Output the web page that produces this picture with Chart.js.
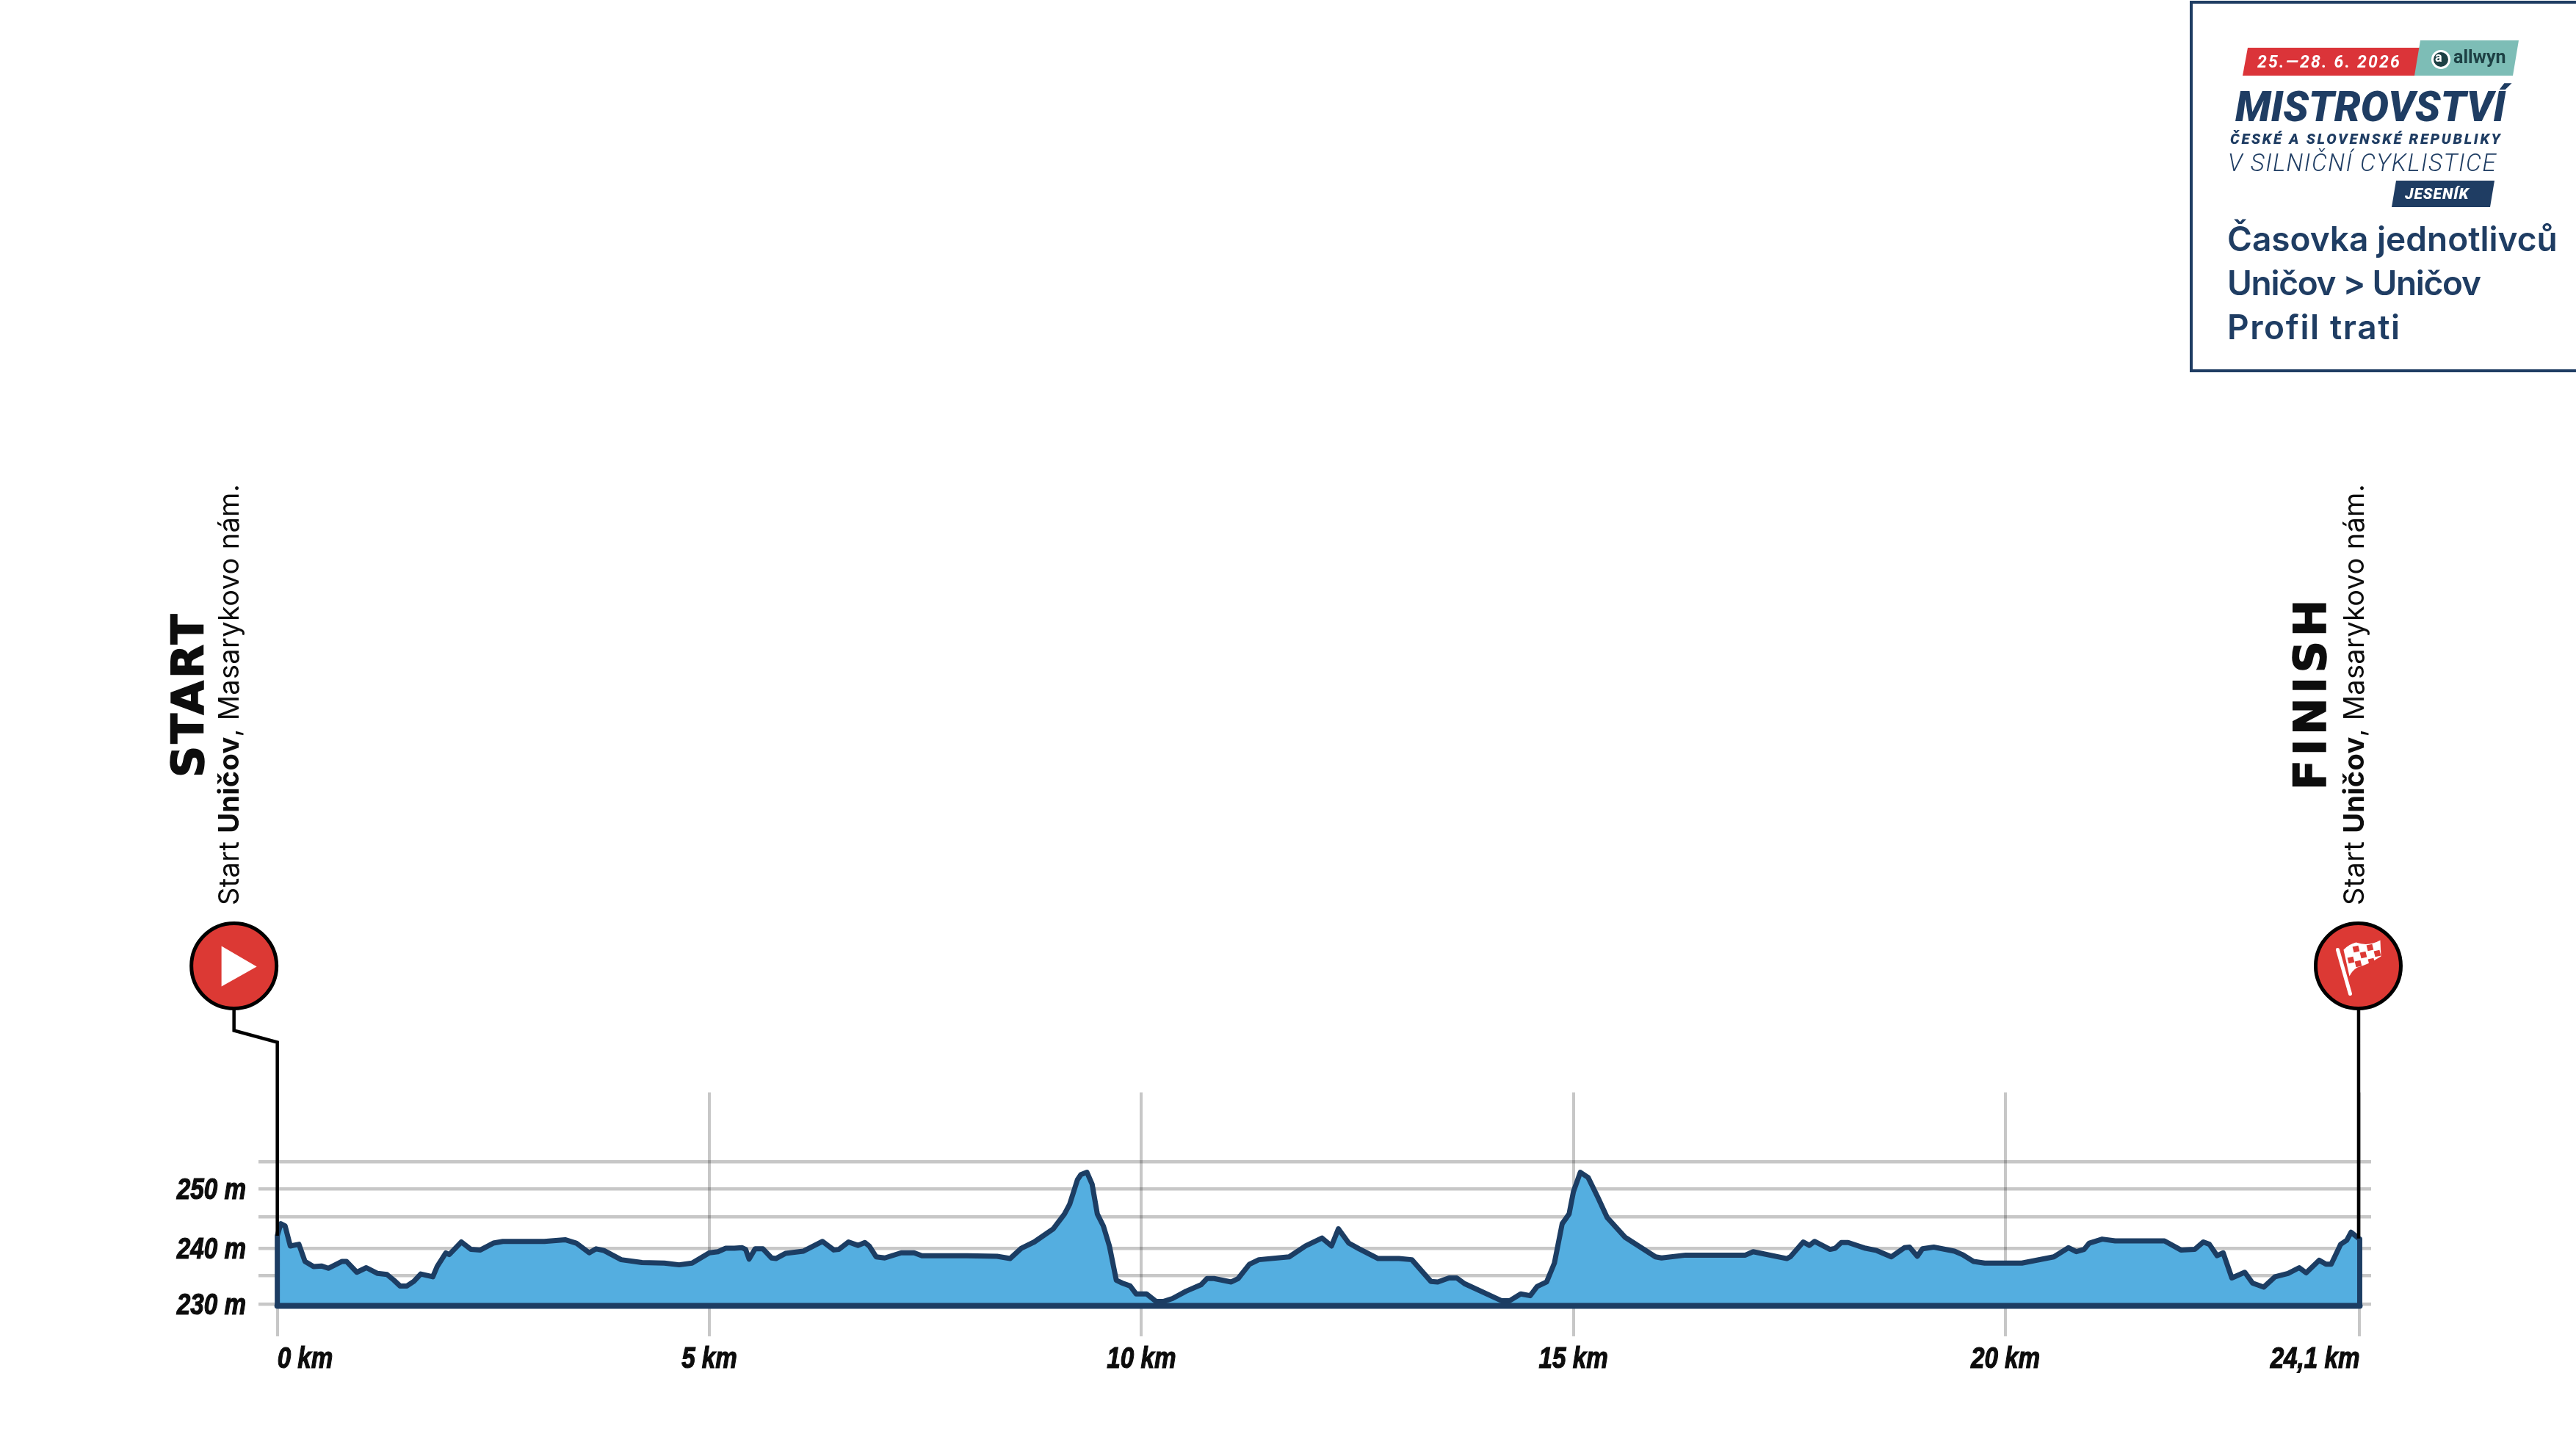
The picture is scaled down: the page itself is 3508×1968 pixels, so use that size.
<!DOCTYPE html>
<html>
<head>
<meta charset="utf-8">
<script src="https://cdn.jsdelivr.net/npm/chart.js@4"></script>
<style>
    html, body { margin: 0; padding: 0; background: #fff; }
    #page { position: relative; width: 3508px; height: 1968px; overflow: hidden; }
    #profile { position: absolute; left: 0; top: 0; }

    .t { position: absolute; white-space: nowrap; line-height: 1; color: #1f3d63; }
    .logo { font-family: Roboto, sans-serif; font-style: italic; }
    .shape { position: absolute; }
    .route { font-family: Inter, sans-serif; font-weight: 600; font-size: 46px; }

    .rot { position: absolute; white-space: nowrap; line-height: 1; color: #0d0d0d;
           transform: rotate(-90deg); transform-origin: left top; }
    .big { font-family: "DejaVu Sans", sans-serif; font-weight: 700; font-size: 60px; -webkit-text-stroke: 1.5px #0d0d0d; }
    .place { font-family: Inter, sans-serif; font-size: 38px; letter-spacing: 0.3px; }
    .place b { font-weight: 700; }
</style>
</head>
<body>
<div id="page">
    <canvas id="profile" width="3508" height="1968"></canvas>

    <div class="rot big" style="left:226px; top:1059px; letter-spacing:3px;">START</div>
    <div class="rot place" style="left:292px; top:1233px;">Start <b>Uničov</b>, Masarykovo nám.</div>
    <div class="rot big" style="left:3116px; top:1076px; letter-spacing:6px;">FINISH</div>
    <div class="rot place" style="left:3186px; top:1233px;">Start <b>Uničov</b>, Masarykovo nám.</div>

    <div class="shape" style="left:2982px; top:1px; width:530px; height:498px; border:4px solid #1f3d63;"></div>

    <div class="shape" style="left:3054px; top:65px; width:242px; height:38px; background:#db3439; clip-path:polygon(7px 0,100% 0,calc(100% - 7px) 100%,0 100%);"></div>
    <div class="shape" style="left:3288px; top:55px; width:142px; height:48px; background:#7dbdb6; clip-path:polygon(8px 0,100% 0,calc(100% - 8px) 100%,0 100%);"></div>
    <div class="t logo" style="left:3074px; top:73px; font-size:23px; font-weight:700; color:#fff; letter-spacing:2.2px;">25.—28. 6. 2026</div>
    <div class="shape" style="left:3311px; top:68px; width:20px; height:20px; border-radius:50%; background:#1d4044; border:3px solid #fff;"></div>
    <div class="t" style="left:3316px; top:69px; font-family:Roboto; font-weight:700; font-size:18px; color:#fff;">a</div>
    <div class="t" style="left:3341px; top:65px; font-family:Roboto; font-weight:700; font-size:25px; color:#1d4044;">allwyn</div>

    <div class="t logo" style="left:3044px; top:117px; font-size:57px; font-weight:900; letter-spacing:0;">MISTROVSTVÍ</div>
    <div class="t logo" style="left:3037px; top:179px; font-size:20px; font-weight:900; letter-spacing:2.7px;">ČESKÉ A SLOVENSKÉ REPUBLIKY</div>
    <div class="t logo" style="left:3034px; top:205px; font-size:33px; font-weight:300; letter-spacing:1.5px;">V SILNIČNÍ CYKLISTICE</div>
    <div class="shape" style="left:3257px; top:246px; width:140px; height:36px; background:#1f3d63; clip-path:polygon(6px 0,100% 0,calc(100% - 6px) 100%,0 100%);"></div>
    <div class="t logo" style="left:3275px; top:254px; font-size:21px; font-weight:900; color:#fff; letter-spacing:1px;">JESENÍK</div>

    <div class="t route" style="left:3033px; top:302px;">Časovka jednotlivců</div>
    <div class="t route" style="left:3033px; top:362px; letter-spacing:-1.3px;">Uničov &gt; Uničov</div>
    <div class="t route" style="left:3033px; top:422px; letter-spacing:1.6px;">Profil trati</div>
</div>

<script>
// km / metres
const kmValues = [
    0, 0, 0.04, 0.09, 0.15, 0.25, 0.32, 0.42, 0.51, 0.59, 0.75, 0.80, 0.92, 1.03, 1.16, 1.27, 1.35, 1.42, 1.50, 1.58,
    1.66, 1.80, 1.85, 1.95, 1.99, 2.13, 2.24, 2.35, 2.50, 2.61, 2.87, 3.09, 3.33, 3.46, 3.61, 3.69, 3.78, 3.98, 4.22, 4.48,
    4.65, 4.80, 5.00, 5.10, 5.19, 5.29, 5.38, 5.42, 5.46, 5.53, 5.62, 5.72, 5.77, 5.88, 6.09, 6.31, 6.44, 6.50, 6.61, 6.72,
    6.80, 6.85, 6.93, 7.03, 7.22, 7.37, 7.46, 7.81, 7.98, 8.33, 8.48, 8.61, 8.76, 8.98, 9.11, 9.17, 9.26, 9.30, 9.37, 9.43,
    9.49, 9.56, 9.63, 9.71, 9.78, 9.87, 9.94, 10.06, 10.17, 10.26, 10.36, 10.52, 10.69, 10.76, 10.84, 11.04, 11.12, 11.25, 11.36, 11.71,
    11.90, 12.09, 12.20, 12.28, 12.40, 12.52, 12.74, 12.98, 13.13, 13.35, 13.43, 13.56, 13.65, 13.74, 14.17, 14.26, 14.39, 14.50, 14.58, 14.69,
    14.78, 14.87, 14.95, 15.00, 15.08, 15.17, 15.28, 15.39, 15.60, 15.95, 16.02, 16.30, 16.99, 17.08, 17.47, 17.51, 17.66, 17.73, 17.79, 17.97,
    18.03, 18.10, 18.18, 18.38, 18.51, 18.68, 18.83, 18.89, 18.98, 19.04, 19.17, 19.41, 19.50, 19.63, 19.76, 20.19, 20.56, 20.73, 20.82, 20.91,
    20.97, 21.12, 21.27, 21.84, 22.03, 22.19, 22.29, 22.36, 22.45, 22.52, 22.62, 22.77, 22.86, 22.99, 23.12, 23.27, 23.40, 23.48, 23.63, 23.71,
    23.77, 23.88, 23.95, 24.00, 24.09, 24.10, 24.10
];
const elevationValues = [
    229.7, 242.0, 244.1, 243.7, 240.2, 240.5, 237.5, 236.6, 236.7, 236.3, 237.5, 237.5, 235.6, 236.4, 235.4, 235.2, 234.2, 233.2, 233.2, 234.0,
    235.3, 234.8, 236.6, 239.0, 238.7, 240.9, 239.6, 239.5, 240.7, 241.0, 241.0, 241.0, 241.3, 240.7, 239.0, 239.7, 239.4, 237.8, 237.3, 237.2,
    236.9, 237.2, 239.0, 239.2, 239.8, 239.8, 239.9, 239.6, 237.9, 239.7, 239.7, 238.1, 238.0, 238.9, 239.3, 241.0, 239.5, 239.6, 240.9, 240.3,
    240.8, 240.2, 238.3, 238.1, 239.0, 239.0, 238.5, 238.5, 238.5, 238.4, 238.0, 239.8, 240.9, 243.2, 245.8, 247.5, 251.8, 252.7, 253.1, 251.0,
    245.8, 243.7, 240.2, 234.2, 233.7, 233.2, 231.8, 231.8, 230.5, 230.5, 231.0, 232.3, 233.4, 234.5, 234.5, 233.9, 234.5, 237.0, 237.8, 238.3,
    240.2, 241.6, 240.2, 243.2, 240.7, 239.7, 238.0, 238.0, 237.8, 234.0, 233.9, 234.6, 234.6, 233.6, 230.6, 230.6, 231.8, 231.5, 233.1, 233.9,
    237.2, 244.1, 245.8, 249.7, 253.1, 252.2, 248.8, 245.2, 241.7, 238.3, 238.1, 238.6, 238.6, 239.2, 238.0, 238.3, 240.9, 240.3, 241.0, 239.6,
    239.8, 240.8, 240.8, 239.8, 239.4, 238.3, 239.9, 240.0, 238.4, 239.7, 240.0, 239.3, 238.7, 237.5, 237.2, 237.2, 238.3, 239.9, 239.2, 239.6,
    240.7, 241.4, 241.1, 241.1, 239.5, 239.6, 240.9, 240.5, 238.5, 239.0, 234.6, 235.6, 233.7, 233.0, 234.8, 235.4, 236.4, 235.5, 237.7, 237.0,
    237.0, 240.5, 241.2, 242.6, 241.5, 241.4, 229.7
];
const baseKm = [0, 24.1];
const baseElevation = [229.7, 229.7];

const xTickValues = [0, 5, 10, 15, 20, 24.1];
const xTickLabels = ["0 km", "5 km", "10 km", "15 km", "20 km", "24,1 km"];
// the grid in the picture is not quite even
const yTickValues = [230, 235.01, 239.77, 245.24, 250.18, 255];
const yTickLabels = ["230 m", "", "240 m", "", "250 m", ""];

const navy = "#1c3d63";
const red = "#dc3934";
const gridColor = "rgba(0,0,0,0.22)";
const labelColor = "#0d0d0d";

function squeezedLabel(ctx, text, x, y, align) {
    // no condensed face is installed, so squeeze the bold italic by hand
    ctx.save();
    ctx.translate(x, y);
    ctx.scale(0.83, 1);
    ctx.font = 'italic bold 40px "Liberation Sans", sans-serif';
    ctx.textAlign = align;
    ctx.textBaseline = "alphabetic";
    ctx.fillStyle = labelColor;
    ctx.strokeStyle = labelColor;
    ctx.lineWidth = 1.2;
    ctx.fillText(text, 0, 0);
    ctx.strokeText(text, 0, 0);
    ctx.restore();
}

const axisLabels = {
    id: "axisLabels",
    afterDraw(chart) {
        const ctx = chart.ctx;
        const xs = chart.scales.x;
        const ys = chart.scales.y;
        xTickValues.forEach((v, i) => {
            // first label starts on its tick, last one ends on it
            const align = i === 0 ? "left" : i === xTickValues.length - 1 ? "right" : "center";
            squeezedLabel(ctx, xTickLabels[i], xs.getPixelForValue(v), xs.top + 43, align);
        });
        yTickValues.forEach((v, i) => {
            if (yTickLabels[i]) squeezedLabel(ctx, yTickLabels[i], ys.right - 17, ys.getPixelForValue(v) + 13.5, "right");
        });
    }
};

function marker(ctx, x, y) {
    ctx.beginPath();
    ctx.arc(x, y, 58, 0, Math.PI * 2);
    ctx.fillStyle = red;
    ctx.fill();
    ctx.lineWidth = 5;
    ctx.strokeStyle = "#000";
    ctx.stroke();
}

// start and finish signs hang off the ends of the x scale
const signs = {
    id: "signs",
    afterDatasetsDraw(chart) {
        const ctx = chart.ctx;
        const xs = chart.scales.x;
        const ys = chart.scales.y;
        const sx = xs.getPixelForValue(0);
        const fx = xs.getPixelForValue(24.1);
        const mx = fx - 2;
        const cy = 1315.5;

        ctx.save();
        ctx.strokeStyle = "#000";
        ctx.lineWidth = 4.5;
        ctx.beginPath();
        ctx.moveTo(sx - 59, cy + 58);
        ctx.lineTo(sx - 59, cy + 88);
        ctx.lineTo(sx, cy + 104);
        ctx.lineTo(sx, ys.getPixelForValue(elevationValues[1]));
        ctx.moveTo(fx - 1.5, cy + 58);
        ctx.lineTo(fx - 1.5, ys.getPixelForValue(241.5));
        ctx.stroke();

        marker(ctx, sx - 59, cy);
        ctx.fillStyle = "#fff";
        ctx.beginPath();
        ctx.moveTo(sx - 76, cy - 27);
        ctx.lineTo(sx - 28, cy + 1);
        ctx.lineTo(sx - 76, cy + 28);
        ctx.closePath();
        ctx.fill();

        marker(ctx, mx, cy);
        ctx.strokeStyle = "#fff";
        ctx.lineWidth = 5;
        ctx.lineCap = "round";
        ctx.beginPath();
        ctx.moveTo(mx - 28, cy - 22);
        ctx.lineTo(mx - 11, cy + 38);
        ctx.stroke();
        ctx.fillStyle = "#fff";
        ctx.beginPath();
        ctx.moveTo(mx - 20, cy - 22);
        ctx.quadraticCurveTo(mx - 12, cy - 30, mx - 3, cy - 32);
        ctx.quadraticCurveTo(mx + 14, cy - 26, mx + 30, cy - 35);
        ctx.lineTo(mx + 31, cy - 13);
        ctx.quadraticCurveTo(mx + 14, cy - 2, mx - 1, cy + 2);
        ctx.quadraticCurveTo(mx - 8, cy + 6, mx - 12, cy + 14);
        ctx.closePath();
        ctx.fill();
        // checks on the flag
        ctx.fillStyle = red;
        [[-3, -23], [16, -25], [7, -15], [26, -17], [-10, -8], [18, -6], [0, -3]].forEach(c => {
            ctx.save();
            ctx.translate(mx + c[0], cy + c[1]);
            ctx.rotate(-0.25);
            ctx.fillRect(-4, -4, 8, 8);
            ctx.restore();
        });
        ctx.restore();
    }
};

new Chart(document.getElementById("profile"), {
    type: "line",
    data: {
        datasets: [
            {
                data: baseKm.map((k, i) => ({ x: k, y: baseElevation[i] })),
                borderColor: navy,
                borderWidth: 8,
                borderCapStyle: "round",
                pointRadius: 0,
                fill: false,
                order: 1
            },
            {
                data: kmValues.map((k, i) => ({ x: k, y: elevationValues[i] })),
                borderColor: navy,
                borderWidth: 7,
                borderJoinStyle: "round",
                backgroundColor: "#54aee0",
                pointRadius: 0,
                tension: 0,
                fill: { value: 229.7 },
                order: 2
            }
        ]
    },
    options: {
        responsive: false,
        animation: false,
        devicePixelRatio: 1,
        layout: { padding: { top: 1487.7, right: 279, bottom: 0, left: 0 } },
        plugins: { legend: { display: false }, tooltip: { enabled: false } },
        scales: {
            x: {
                type: "linear",
                min: -0.218,
                max: 24.232,
                afterFit(scale) { scale.height = 148; },
                afterBuildTicks(scale) { scale.ticks = xTickValues.map(v => ({ value: v })); },
                border: { display: false },
                grid: { color: gridColor, lineWidth: 4, drawTicks: false },
                ticks: { display: false, autoSkip: false }
            },
            y: {
                min: 224.38,
                max: 267.1,
                afterFit(scale) { scale.width = 352; },
                afterBuildTicks(scale) { scale.ticks = yTickValues.map(v => ({ value: v })); },
                border: { display: false },
                grid: { color: gridColor, lineWidth: 4.5, drawTicks: false },
                ticks: { display: false, autoSkip: false }
            }
        }
    },
    plugins: [axisLabels, signs]
});
</script>
</body>
</html>
